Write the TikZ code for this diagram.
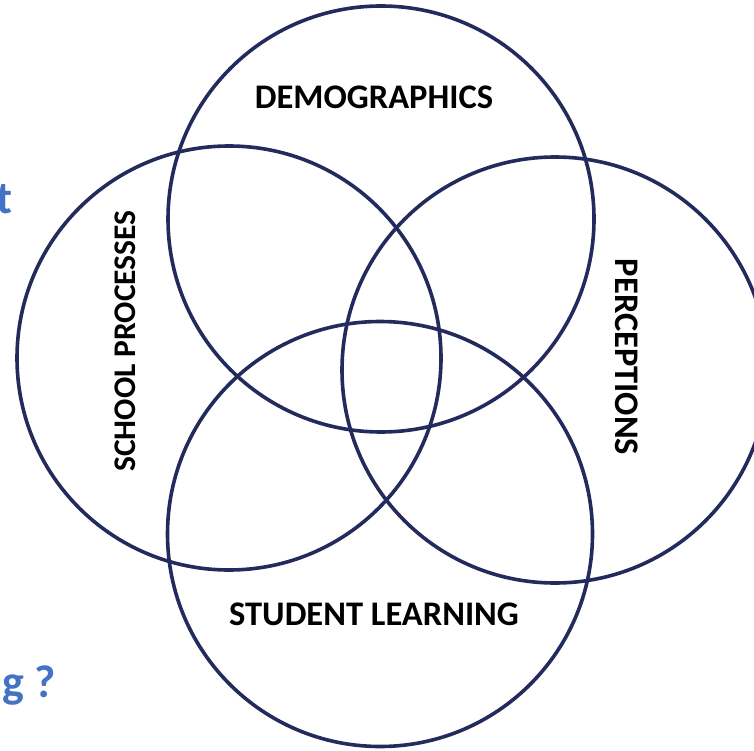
\documentclass[tikz,border=0pt]{standalone}
\usepackage{fontspec}
\setmainfont{Carlito}
\definecolor{navy}{HTML}{232A5C}
\definecolor{qblue}{HTML}{4472C4}
\tikzset{
  ring/.style={draw=navy, line width=3.6pt},
  lbl/.style={font=\bfseries\fontsize{34.5}{40}\selectfont, text=black, inner sep=0pt},
  frag/.style={font=\bfseries\fontsize{46}{52}\selectfont, text=qblue, inner sep=0pt}
}
\begin{document}
\begin{tikzpicture}[x=1pt,y=-1pt]
\useasboundingbox (0,0) rectangle (754,751);
\clip (0,0) rectangle (754,751);
\node[ring, circle, minimum size=426pt, inner sep=0pt] (top) at (381,219) {};
\node[ring, circle, minimum size=424pt, inner sep=0pt] (left) at (229,358) {};
\node[ring, circle, minimum size=426pt, inner sep=0pt] (right) at (555,370) {};
\node[ring, circle, minimum size=425pt, inner sep=0pt] (bottom) at (380,534) {};
\node[lbl] (demo) at (374,97) {DEMOGRAPHICS};
\node[lbl, font=\bfseries\fontsize{31.5}{36}\selectfont, rotate=90] (school) at (125,341) {SCHOOL PROCESSES};
\node[lbl, rotate=-90] (perc) at (627,357) {PERCEPTIONS};
\node[lbl] (stud) at (374,614) {STUDENT LEARNING};
\node[frag, anchor=base east] (fa) at (13,214) {t};
\node[frag, anchor=base east] (fb) at (56,697) {g ?};
\end{tikzpicture}
\end{document}
